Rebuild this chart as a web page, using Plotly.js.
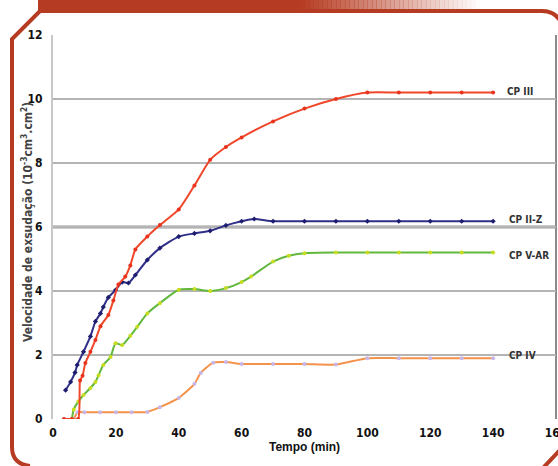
<!DOCTYPE html>
<html>
<head>
<meta charset="utf-8">
<script src="https://cdn.plot.ly/plotly-3.0.1.min.js"></script>
<style>
html,body{margin:0;padding:0;background:#fff;}
#chart{width:558px;height:466px;}
</style>
</head>
<body>
<div id="chart"></div>
<script>
// ---- Data ----
const cp3_t = [3.5, 6, 8, 8.6, 9.4, 10.3, 11.9, 13.5, 15.1, 17.6, 19.2, 20.8, 23, 24.6, 26.2, 30, 34, 40, 45, 50, 55, 60, 70, 80, 90, 100, 110, 120, 130, 140];
const cp3_v = [0, 0, 0, 1.2, 1.35, 1.75, 2.1, 2.47, 2.9, 3.25, 3.7, 4.2, 4.45, 4.8, 5.3, 5.7, 6.06, 6.55, 7.3, 8.1, 8.5, 8.8, 9.3, 9.7, 10.0, 10.2, 10.2, 10.2, 10.2, 10.2];

const cp2z_t = [4, 5.6, 7, 7.7, 9.7, 11.9, 13.5, 15.1, 16, 17.6, 19.9, 22, 24, 26.2, 30, 34, 40, 45, 50, 55, 60, 64, 70, 80, 90, 100, 110, 120, 130, 140];
const cp2z_v = [0.9, 1.16, 1.45, 1.69, 2.1, 2.58, 3.05, 3.3, 3.5, 3.8, 4.03, 4.28, 4.25, 4.5, 4.97, 5.34, 5.7, 5.8, 5.88, 6.05, 6.18, 6.25, 6.18, 6.18, 6.18, 6.18, 6.18, 6.18, 6.18, 6.18];

const cp5ar_t = [6, 6.6, 8.1, 9.7, 11.9, 13.5, 14.5, 16, 18.3, 19.9, 22, 24.6, 26.8, 30, 34, 40, 45, 50, 55, 60, 63, 70, 75, 80, 90, 100, 110, 120, 130, 140];
const cp5ar_v = [0, 0.3, 0.55, 0.75, 0.97, 1.16, 1.37, 1.69, 1.94, 2.37, 2.31, 2.6, 2.88, 3.3, 3.62, 4.04, 4.06, 4.0, 4.09, 4.28, 4.45, 4.92, 5.1, 5.18, 5.2, 5.2, 5.2, 5.2, 5.2, 5.2];

const cp4_t = [3.5, 6.5, 7.8, 10, 15, 20, 25, 30, 34, 40, 45, 47, 51, 55, 60, 70, 80, 90, 100, 110, 120, 130, 140];
const cp4_v = [0, 0, 0.21, 0.21, 0.21, 0.21, 0.21, 0.22, 0.37, 0.66, 1.1, 1.44, 1.76, 1.78, 1.72, 1.72, 1.72, 1.7, 1.9, 1.9, 1.9, 1.9, 1.9];

const seriesNames = ["CP III", "CP II-Z", "CP V-AR", "CP IV"];
const labelX = [143.8, 144.4, 144.4, 144.4];
const labelY = [10.25, 6.22, 5.12, 2.0];

const xTicks = [0, 20, 40, 60, 80, 100, 120, 140, 160];
const yTicks = [0, 2, 4, 6, 8, 10, 12];

const yTitle = 'Velocidade de exsudação (10<sup>-3</sup>cm<sup>3</sup>.cm<sup>2</sup>)';
const xTitle = 'Tempo (min)';

// ---- Geometry helpers for the decorative frame (pixel -> paper) ----
const L = 53, R = 556, T = 35, B = 419;
const W = 558, H = 466;
const px = x => (x - L) / (R - L);
const py = y => (B - y) / (B - T);
const frameColor = '#b53c22';

const shapes = [];
shapes.push({type:'rect', xref:'paper', yref:'paper', x0:px(38), x1:px(300), y0:py(0), y1:py(13), fillcolor:frameColor, line:{width:0}, layer:'above'});
const steps = 40;
for (let i = 0; i < steps; i++) {
  const x0 = 300 + i * (180 / steps), x1 = x0 + 180 / steps + 0.5;
  const a = 1 - (i + 0.5) / steps;
  shapes.push({type:'rect', xref:'paper', yref:'paper', x0:px(x0), x1:px(x1), y0:py(0), y1:py(13),
    fillcolor:`rgba(181,60,34,${a.toFixed(3)})`, line:{width:0}, layer:'above'});
}
const fpath = `M ${px(562)},${py(24)} Q ${px(556)},${py(11)} ${px(542)},${py(11)} L ${px(40)},${py(11)} L ${px(12)},${py(39)} L ${px(12)},${py(447)} Q ${px(12)},${py(464)} ${px(30)},${py(466)}`;
shapes.push({type:'path', xref:'paper', yref:'paper', path:fpath, line:{color:frameColor, width:4}, layer:'above'});
shapes.push({type:'line', xref:'paper', yref:'paper', x0:px(561), y0:py(449), x1:px(543), y1:py(468), line:{color:frameColor, width:4}, layer:'above'});
shapes.push({type:'line', xref:'paper', yref:'paper', x0:1, x1:1, y0:0, y1:1, line:{color:'#8a8a8a', width:2}, layer:'below'});
shapes.push({type:'line', xref:'paper', yref:'y', x0:0, x1:1, y0:6, y1:6, line:{color:'#9a9a9a', width:3}, layer:'below'});

function trace(t, v, name, color, mcolor, msym) {
  return {x:t, y:v, name:name, type:'scatter', mode:'lines+markers',
    line:{color:color, width:2, shape:'spline', smoothing:0.6},
    marker:{color:mcolor, size:4, symbol:msym}};
}

const data = [
  trace(cp4_t, cp4_v, seriesNames[3], '#f4924a', '#c9b6e8', 'circle'),
  trace(cp5ar_t, cp5ar_v, seriesNames[2], '#62b83c', '#c8dc20', 'circle'),
  trace(cp2z_t, cp2z_v, seriesNames[1], '#2f2f88', '#1e1e70', 'diamond'),
  trace(cp3_t, cp3_v, seriesNames[0], '#f0472a', '#e8341c', 'circle')
];

const condensed = 'DejaVu Sans Condensed, Liberation Sans Narrow, Arial Narrow, sans-serif';

const annotations = seriesNames.map((n, i) => ({
  x: labelX[i], y: labelY[i], xref:'x', yref:'y', text:n, showarrow:false,
  xanchor:'left', yanchor:'middle',
  font:{family:condensed, size:10, color:'#333', weight:'bold'}
}));
annotations.push({
  x: px(27), y: py(222), xref:'paper', yref:'paper', text:yTitle, showarrow:false, textangle:-90,
  xanchor:'center', yanchor:'middle',
  font:{family:condensed, size:12, color:'#444', weight:'bold'}
});

const tickFont = {family:condensed, size:12, color:'#111', weight:'bold'};

const layout = {
  width:W, height:H, autosize:false,
  margin:{l:L, r:W - R, t:T, b:H - B, pad:0},
  paper_bgcolor:'#fff', plot_bgcolor:'#fff',
  showlegend:false,
  xaxis:{range:[0,160], tickvals:xTicks, ticktext:xTicks.map(String), showgrid:false, zeroline:false, showline:false,
    ticks:'outside', ticklen:3, tickcolor:'rgba(0,0,0,0)', tickfont:tickFont, ticklabeloverflow:'allow',
    title:{text:xTitle, standoff:0, font:{family:'Liberation Sans, Arial, sans-serif', size:12, color:'#111', weight:'bold'}}},
  yaxis:{range:[0,12], tickvals:yTicks, ticktext:yTicks.map(String), showgrid:true, gridcolor:'#b4b4b4', gridwidth:1.5, zeroline:false,
    showline:true, linecolor:'#c8c8c8', linewidth:2,
    ticks:'outside', ticklen:6, tickcolor:'rgba(0,0,0,0)', tickfont:tickFont},
  shapes:shapes,
  annotations:annotations
};

Plotly.newPlot('chart', data, layout, {staticPlot:true, displayModeBar:false});
</script>
</body>
</html>
